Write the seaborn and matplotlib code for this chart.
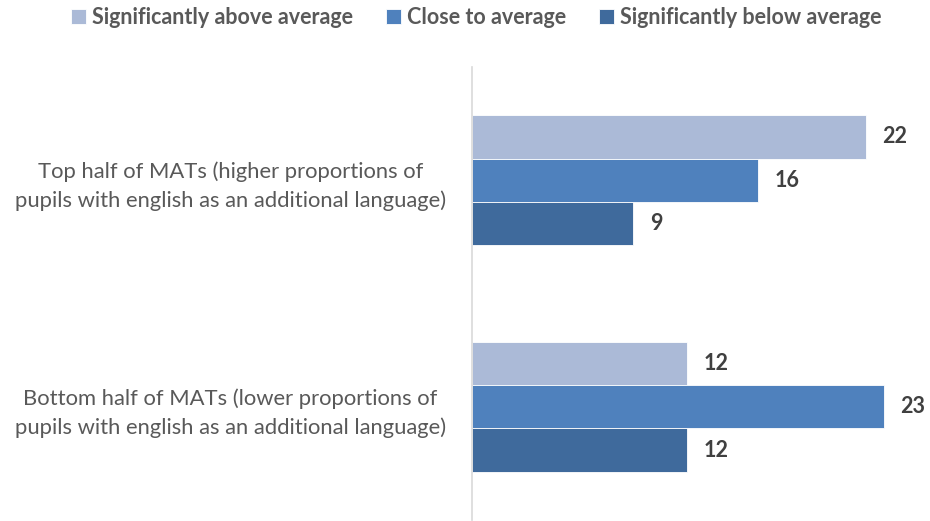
import pandas as pd
import matplotlib.pyplot as plt
import seaborn as sns

categories = [
    "Top half of MATs (higher proportions of\npupils with english as an additional language)",
    "Bottom half of MATs (lower proportions of\npupils with english as an additional language)",
]
series_names = ["Significantly above average", "Close to average", "Significantly below average"]
above_avg = [22, 12]
close_avg = [16, 23]
below_avg = [9, 12]

colors = ["#ABBAD7", "#4F81BD", "#3F6A9C"]


def build_frame():
    rows = []
    for name, values in zip(series_names, [above_avg, close_avg, below_avg]):
        for cat, v in zip(categories, values):
            rows.append({"group": cat, "series": name, "count": v})
    return pd.DataFrame(rows)


def main():
    df = build_frame()
    sns.set_theme(style="white")
    plt.rcParams["font.family"] = ["Lato", "DejaVu Sans"]

    fig = plt.figure(figsize=(9.3, 5.21), dpi=100)
    ax = fig.add_axes([472 / 930, 1 / 521, 447.5 / 930, 453 / 521])

    sns.barplot(
        data=df, x="count", y="group", hue="series",
        order=categories, hue_order=series_names,
        palette=colors, saturation=1, width=0.575, orient="h",
        edgecolor="white", linewidth=0.6, ax=ax, legend=True,
    )

    ax.set_xlim(0, 25)
    ax.set_xlabel("")
    ax.set_ylabel("")
    ax.set_xticks([])
    for side in ["top", "right", "bottom"]:
        ax.spines[side].set_visible(False)
    ax.spines["left"].set_color("#D9D9D9")
    ax.spines["left"].set_linewidth(1.2)

    ax.tick_params(axis="y", length=0, pad=174, labelsize=15.8, labelcolor="#595959")
    for lbl in ax.get_yticklabels():
        lbl.set_horizontalalignment("center")
        lbl.set_multialignment("center")
        lbl.set_linespacing(1.5)

    for container in ax.containers:
        ax.bar_label(container, padding=12, fontsize=15.5, fontweight="bold", color="#404040")

    handles, labels = ax.get_legend_handles_labels()
    ax.get_legend().remove()
    fig.legend(
        handles, labels, loc="upper center", bbox_to_anchor=(0.512, 1.024), ncol=3,
        frameon=False, handlelength=0.7, handleheight=0.7, handletextpad=0.3,
        columnspacing=1.5, prop={"size": 15.5, "weight": "bold"}, labelcolor="#595959",
    )

    fig.savefig("out.png", dpi=100)
    plt.close(fig)


if __name__ == "__main__":
    main()
